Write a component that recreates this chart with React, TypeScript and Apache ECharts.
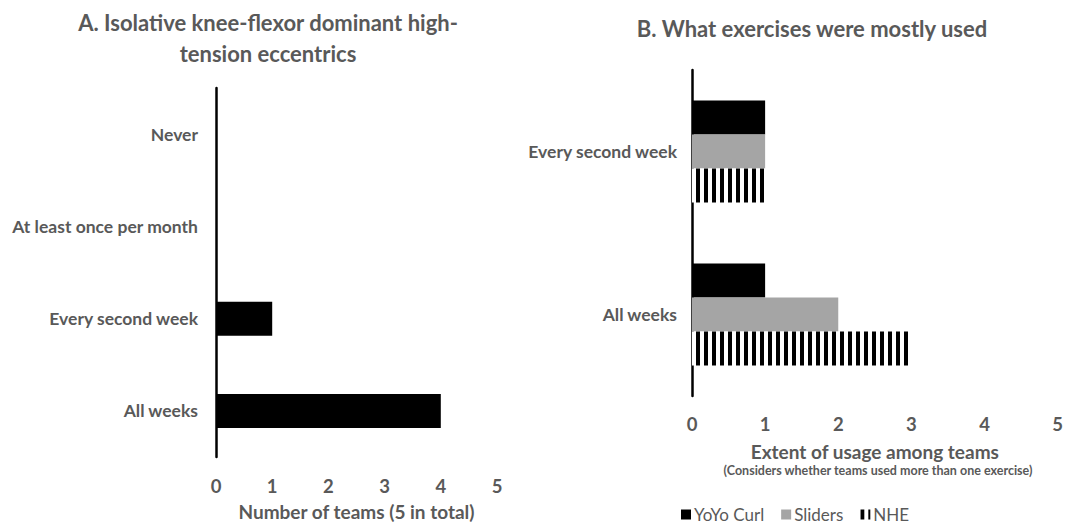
import React, { useEffect, useRef } from "react";
import * as echarts from "echarts";

const categoriesA = ["Never", "At least once per month", "Every second week", "All weeks"];
const teamsA = [0, 0, 1, 4];

const categoriesB = ["Every second week", "All weeks"];
const yoyoCurl = [1, 1];
const sliders = [1, 2];
const nhe = [1, 3];

const xTicks = [0, 1, 2, 3, 4, 5];

const FONT = "Lato";
const TEXT = "#595959";

export default function App() {
  const ref = useRef<HTMLDivElement>(null);
  useEffect(() => {
    if (!ref.current) return;
    const chart = echarts.init(ref.current, null, { renderer: "svg" });
    const valueAxisBase = {
      type: "value" as const,
      min: xTicks[0],
      max: xTicks[xTicks.length - 1],
      interval: 1,
      splitLine: { show: false },
      axisLine: { show: false },
      axisTick: { show: false },
      nameLocation: "middle" as const,
      nameTextStyle: { fontFamily: FONT, fontWeight: "bold" as const, fontSize: 19, color: TEXT },
      axisLabel: { fontFamily: FONT, fontWeight: "bold" as const, fontSize: 18.5, color: TEXT, margin: 19 },
    };
    const catAxisBase = {
      type: "category" as const,
      inverse: true,
      axisLine: { show: true, lineStyle: { color: "#000", width: 2.5 } },
      axisTick: { show: false },
      axisLabel: { fontFamily: FONT, fontWeight: "bold" as const, fontSize: 17.5, color: TEXT },
    };
    chart.setOption({
      animation: false,
      backgroundColor: "#fff",
      title: [
        {
          text: "A. Isolative knee-flexor dominant high-\ntension eccentrics",
          left: 268,
          top: 7,
          padding: 0,
          textAlign: "center",
          textStyle: { fontFamily: FONT, fontWeight: "bold", fontSize: 22, color: TEXT, lineHeight: 31 },
        },
        {
          text: "B. What exercises were mostly used",
          left: 812,
          top: 17,
          padding: 0,
          textAlign: "center",
          textStyle: { fontFamily: FONT, fontWeight: "bold", fontSize: 22, color: TEXT },
        },
      ],
      grid: [
        { left: 216, top: 88, width: 281, height: 372 },
        { left: 692, top: 70, width: 370, height: 326 },
      ],
      xAxis: [
        { ...valueAxisBase, gridIndex: 0, name: "Number of teams (5 in total)", nameGap: 45 },
        { ...valueAxisBase, gridIndex: 1, name: "Extent of usage among teams", nameGap: 46, axisLabel: { ...valueAxisBase.axisLabel, margin: 18 } },
      ],
      yAxis: [
        { ...catAxisBase, gridIndex: 0, data: categoriesA, axisLabel: { ...catAxisBase.axisLabel, margin: 18 } },
        { ...catAxisBase, gridIndex: 1, data: categoriesB, axisLabel: { ...catAxisBase.axisLabel, margin: 15 } },
      ],
      legend: {
        left: 681,
        top: 506,
        padding: 0,
        itemWidth: 10,
        itemHeight: 10,
        itemGap: 17,
        icon: "rect",
        textStyle: { fontFamily: FONT, fontSize: 17, color: TEXT, padding: [0, 0, 0, -2] },
        data: ["YoYo Curl", "Sliders", "NHE"],
      },
      graphic: [
        {
          type: "text",
          x: 878,
          y: 470,
          style: {
            text: "(Considers whether teams used more than one exercise)",
            fontFamily: FONT,
            fontWeight: "bold",
            fontSize: 12.5,
            fill: TEXT,
            textAlign: "center",
            textVerticalAlign: "middle",
          },
        },
      ],
      series: [
        {
          type: "bar",
          name: "Teams",
          xAxisIndex: 0,
          yAxisIndex: 0,
          data: teamsA,
          barWidth: 34,
          itemStyle: { color: "#000" },
        },
        {
          type: "bar",
          name: "YoYo Curl",
          xAxisIndex: 1,
          yAxisIndex: 1,
          data: yoyoCurl,
          barWidth: 34,
          barGap: "0%",
          itemStyle: { color: "#000" },
        },
        {
          type: "bar",
          name: "Sliders",
          xAxisIndex: 1,
          yAxisIndex: 1,
          data: sliders,
          barWidth: 34,
          barGap: "0%",
          itemStyle: { color: "#a5a5a5" },
        },
        {
          type: "bar",
          name: "NHE",
          xAxisIndex: 1,
          yAxisIndex: 1,
          data: nhe,
          barWidth: 34,
          barGap: "0%",
          itemStyle: {
            color: "#fff",
            decal: {
              symbol: "rect",
              symbolSize: 1,
              color: "#000",
              dashArrayX: [3.5, 3.2],
              dashArrayY: [10, 0],
              rotation: 0,
            },
          },
        },
      ],
    });
    return () => chart.dispose();
  }, []);
  return (
    <div
      ref={ref}
      style={{ position: "fixed", left: 0, top: 0, width: 1066, height: 526 }}
    />
  );
}
